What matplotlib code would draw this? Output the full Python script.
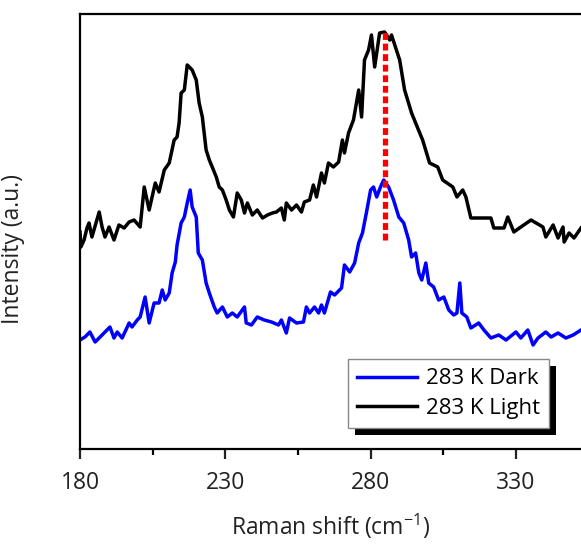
import numpy as np
import matplotlib
matplotlib.use("Agg")
import matplotlib.pyplot as plt
from matplotlib.patches import Rectangle

plt.rcParams['font.family'] = ['Open Sans', 'DejaVu Sans']
plt.rcParams['mathtext.default'] = 'regular'

# 283 K Light (black)
light_shift = [180.0, 180.3, 181.4, 182.4, 183.1, 184.1, 185.2, 186.6, 187.6, 188.6,
               190.0, 191.7, 193.4, 195.2, 196.9, 198.6, 200.7, 202.1, 203.8, 205.9,
               207.2, 209.0, 210.7, 212.4, 213.4, 214.1, 214.8, 215.9, 216.9, 217.6,
               218.6, 220.0, 221.0, 222.1, 223.4, 224.5, 225.5, 226.9, 227.9, 229.0,
               230.3, 231.4, 232.8, 234.1, 235.5, 236.6, 237.6, 239.3, 241.0, 242.8,
               244.5, 246.2, 247.6, 249.3, 250.3, 251.0, 252.8, 254.5, 256.2, 257.2,
               259.0, 260.3, 261.4, 263.1, 264.1, 265.5, 267.2, 269.0, 270.3, 271.0,
               272.4, 274.1, 275.9, 276.9, 277.9, 279.3, 280.3, 281.4, 283.1, 284.8,
               286.6, 287.2, 290.0, 291.7, 294.1, 296.2, 297.9, 300.3, 303.1, 304.8,
               308.3, 309.7, 311.7, 312.8, 314.5, 321.4, 322.4, 325.9, 327.2, 329.3,
               331.7, 335.2, 339.3, 340.3, 342.8, 344.5, 346.2, 346.6, 348.3, 350.0,
               352.4]
light_int = [217, 202, 209, 221, 226, 212, 223, 237, 222, 212,
             222, 209, 224, 221, 227, 229, 222, 262, 239, 266,
             257, 279, 286, 309, 312, 326, 356, 359, 384, 382,
             379, 369, 346, 332, 299, 289, 282, 272, 262, 259,
             249, 239, 232, 256, 249, 236, 246, 234, 239, 231,
             234, 236, 237, 241, 229, 246, 239, 244, 237, 247,
             249, 264, 252, 276, 266, 286, 282, 287, 309, 296,
             316, 329, 359, 332, 389, 399, 414, 382, 416, 417,
             409, 414, 389, 359, 336, 321, 309, 286, 282, 269,
             262, 252, 259, 252, 231, 231, 221, 221, 232, 217,
             222, 229, 222, 212, 224, 211, 222, 207, 216, 211,
             221]

# 283 K Dark (blue)
dark_shift = [180.0, 181.7, 183.4, 185.2, 187.6, 190.3, 191.7, 192.8, 194.5, 196.9,
              197.9, 199.7, 200.7, 202.4, 203.8, 205.5, 207.2, 208.3, 209.3, 210.7,
              211.7, 212.8, 213.4, 214.8, 215.9, 216.9, 217.9, 218.6, 220.0, 220.7,
              222.1, 223.4, 224.5, 226.2, 227.2, 229.0, 230.7, 232.4, 234.1, 236.6,
              237.2, 239.0, 241.0, 243.4, 245.9, 248.3, 249.3, 251.0, 252.1, 254.5,
              256.9, 257.9, 259.0, 260.7, 262.1, 263.1, 264.1, 266.2, 267.6, 270.0,
              271.0, 272.8, 274.5, 275.9, 277.2, 278.6, 280.0, 281.0, 282.1, 283.4,
              284.5, 286.2, 287.9, 289.7, 291.4, 293.1, 294.1, 295.5, 296.6, 297.6,
              299.0, 300.0, 301.7, 303.4, 305.2, 306.9, 308.6, 309.7, 310.7, 311.4,
              313.1, 314.5, 317.2, 319.0, 321.4, 324.1, 326.6, 330.0, 331.7, 334.1,
              335.9, 337.6, 340.3, 342.1, 344.5, 347.2, 349.7, 352.4]
dark_int = [109, 112, 117, 107, 114, 122, 111, 117, 111, 126,
            122, 129, 132, 152, 126, 146, 146, 159, 149, 156,
            176, 187, 204, 226, 232, 246, 259, 242, 232, 196,
            189, 166, 156, 142, 136, 142, 132, 136, 132, 142,
            126, 124, 132, 129, 127, 124, 129, 116, 131, 126,
            127, 142, 136, 142, 136, 144, 136, 157, 154, 161,
            184, 177, 186, 206, 216, 237, 259, 262, 252, 262,
            269, 262, 249, 232, 226, 209, 192, 196, 176, 169,
            186, 166, 162, 149, 152, 139, 134, 136, 166, 136,
            132, 121, 126, 119, 111, 114, 109, 117, 111, 119,
            104, 111, 117, 112, 116, 111, 114, 119]

# peak marker
peak_pos = 284.8
peak_range = [209, 417]

fig = plt.figure(figsize=(5.81, 5.45), dpi=100)
ax = fig.add_axes([80 / 581, 96 / 545, 501 / 581, 435 / 545])

ax.plot(dark_shift, dark_int, color='#0000ff', lw=2.5, label='283 K Dark')
ax.plot(light_shift, light_int, color='black', lw=2.5, label='283 K Light')
ax.plot([peak_pos, peak_pos], peak_range, color='red', lw=3.8,
        dashes=(1.3, 0.7), solid_capstyle='butt', dash_capstyle='butt')

ax.set_xlim(180, 352.4)
ax.set_ylim(0, 435)
ax.set_xticks([180, 230, 280, 330])
ax.set_xticks([205, 255, 305], minor=True)
ax.set_yticks([])
ax.spines['right'].set_visible(False)
for s in ['left', 'top', 'bottom']:
    ax.spines[s].set_linewidth(1.6)
ax.tick_params(axis='x', which='major', direction='out', length=7, width=1.6,
               labelsize=16.5, pad=9, colors='#222222')
ax.tick_params(axis='x', which='minor', direction='out', length=4, width=1.6)

ax.set_xlabel('Raman shift (cm$^{-1}$)', fontsize=16.5, color='#222222')
ax.xaxis.set_label_coords(0.5, -0.145)
ax.set_ylabel('Intensity (a.u.)', fontsize=16.5, color='#222222')
ax.yaxis.set_label_coords(-0.11, 0.46)

leg = ax.legend(loc='lower right', bbox_to_anchor=(0.936, 0.048), borderaxespad=0,
                fontsize=16, frameon=True, fancybox=False, framealpha=1,
                handlelength=2.7, handletextpad=0.4, borderpad=0.4, labelspacing=0.4)
leg.get_frame().set_edgecolor('#888888')
leg.get_frame().set_facecolor('white')
leg.get_frame().set_linewidth(1.0)
leg.set_zorder(6)

# drop shadow behind legend
fig.canvas.draw()
bb = leg.get_frame().get_window_extent().transformed(ax.transAxes.inverted())
dx = 7 / 501
dy = 7 / 435
shadow = Rectangle((bb.x0 + dx, bb.y0 - dy), bb.width, bb.height, transform=ax.transAxes,
                   facecolor='black', edgecolor='none', zorder=5, clip_on=False)
ax.add_patch(shadow)

fig.savefig('out.png', dpi=100)
